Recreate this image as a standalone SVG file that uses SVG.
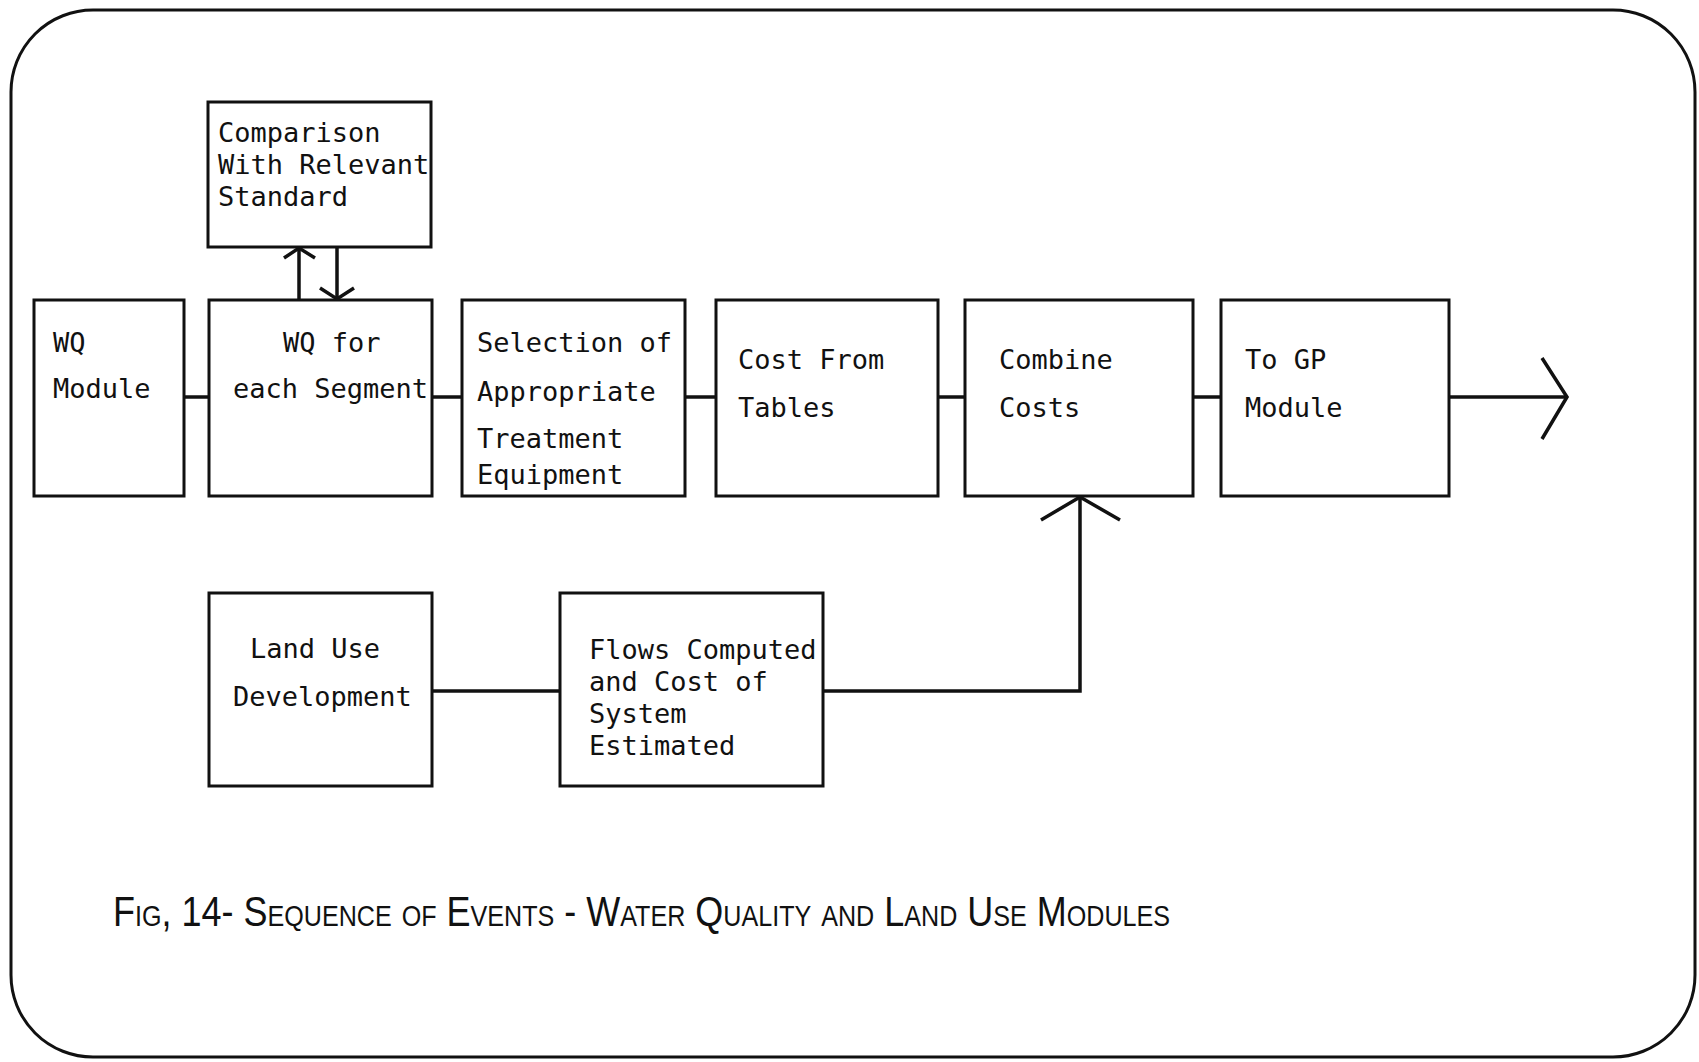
<svg xmlns="http://www.w3.org/2000/svg" width="1699" height="1062" viewBox="0 0 1699 1062">
<style>
.box{fill:none;stroke:#111;stroke-width:3}
.ln{fill:none;stroke:#111;stroke-width:3.5;stroke-linejoin:miter}
.t{font-family:"DejaVu Sans Mono","Liberation Mono",monospace;font-size:27px;fill:#111}
.cap{font-family:"Liberation Sans",Arial,sans-serif;font-size:43px;font-variant:small-caps;fill:#111}
</style>
<rect width="1699" height="1062" fill="#fff"/>
<rect x="11" y="10" width="1684" height="1047" rx="82" ry="82" fill="none" stroke="#111" stroke-width="3"/>
<g id="connectors">
<line class="ln" x1="184" y1="397" x2="209" y2="397"/>
<line class="ln" x1="432" y1="397" x2="462" y2="397"/>
<line class="ln" x1="685" y1="397" x2="716" y2="397"/>
<line class="ln" x1="938" y1="397" x2="965" y2="397"/>
<line class="ln" x1="1193" y1="397" x2="1221" y2="397"/>
<line class="ln" x1="1449" y1="397" x2="1566" y2="397"/>
<polyline class="ln" points="1542,358 1567,397 1542,439"/>
<line class="ln" x1="299" y1="300" x2="299" y2="248"/>
<polyline class="ln" points="284,258 299,248 315,258"/>
<line class="ln" x1="337" y1="247" x2="337" y2="299"/>
<polyline class="ln" points="320,288 337,299 354,288"/>
<line class="ln" x1="432" y1="691" x2="560" y2="691"/>
<polyline class="ln" points="823,691 1080,691 1080,498"/>
<polyline class="ln" points="1041,520 1080,497 1120,520"/>
</g>
<g id="comparison">
<rect class="box" x="208" y="102" width="223" height="145"/>
<text class="t" x="218" y="142">Comparison</text>
<text class="t" x="218" y="174">With Relevant</text>
<text class="t" x="218" y="206">Standard</text>
</g>
<g id="wq-module">
<rect class="box" x="34" y="300" width="150" height="196"/>
<text class="t" x="53" y="352">WQ</text>
<text class="t" x="53" y="398">Module</text>
</g>
<g id="wq-segment">
<rect class="box" x="209" y="300" width="223" height="196"/>
<text class="t" x="283" y="352">WQ for</text>
<text class="t" x="233" y="398">each Segment</text>
</g>
<g id="selection">
<rect class="box" x="462" y="300" width="223" height="196"/>
<text class="t" x="477" y="352">Selection of</text>
<text class="t" x="477" y="401">Appropriate</text>
<text class="t" x="477" y="448">Treatment</text>
<text class="t" x="477" y="484">Equipment</text>
</g>
<g id="cost-tables">
<rect class="box" x="716" y="300" width="222" height="196"/>
<text class="t" x="738" y="369">Cost From</text>
<text class="t" x="738" y="417">Tables</text>
</g>
<g id="combine">
<rect class="box" x="965" y="300" width="228" height="196"/>
<text class="t" x="999" y="369">Combine</text>
<text class="t" x="999" y="417">Costs</text>
</g>
<g id="to-gp">
<rect class="box" x="1221" y="300" width="228" height="196"/>
<text class="t" x="1245" y="369">To GP</text>
<text class="t" x="1245" y="417">Module</text>
</g>
<g id="land-use">
<rect class="box" x="209" y="593" width="223" height="193"/>
<text class="t" x="250" y="658">Land Use</text>
<text class="t" x="233" y="706">Development</text>
</g>
<g id="flows">
<rect class="box" x="560" y="593" width="263" height="193"/>
<text class="t" x="589" y="659">Flows Computed</text>
<text class="t" x="589" y="691">and Cost of</text>
<text class="t" x="589" y="723">System</text>
<text class="t" x="589" y="755">Estimated</text>
</g>
<text class="cap" x="113" y="926" textLength="1057" lengthAdjust="spacingAndGlyphs">Fig, 14- Sequence of Events - Water Quality and Land Use Modules</text>
</svg>
